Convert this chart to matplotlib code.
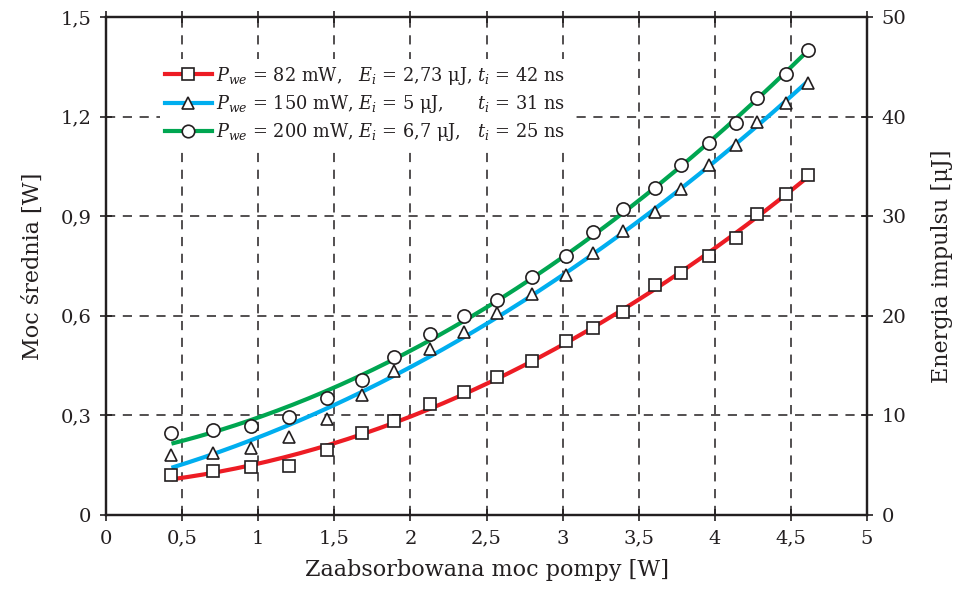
import numpy as np
import matplotlib
matplotlib.use("Agg")
import matplotlib.pyplot as plt
from matplotlib.lines import Line2D

# ---- data ----
pump_power = [0.43, 0.70, 0.95, 1.20, 1.45, 1.68, 1.89, 2.13, 2.35, 2.57, 2.80,
              3.02, 3.20, 3.40, 3.61, 3.78, 3.96, 4.14, 4.28, 4.47, 4.61]
p_82mw = [0.120, 0.133, 0.145, 0.148, 0.196, 0.247, 0.283, 0.334, 0.370, 0.416, 0.464,
          0.524, 0.563, 0.611, 0.693, 0.729, 0.780, 0.834, 0.907, 0.967, 1.024]
p_150mw = [0.181, 0.187, 0.202, 0.235, 0.289, 0.361, 0.434, 0.500, 0.551, 0.608, 0.666,
           0.723, 0.789, 0.855, 0.913, 0.982, 1.054, 1.114, 1.184, 1.241, 1.301]
p_200mw = [0.247, 0.256, 0.268, 0.295, 0.352, 0.407, 0.476, 0.545, 0.599, 0.648, 0.717,
           0.780, 0.852, 0.922, 0.985, 1.054, 1.120, 1.181, 1.256, 1.328, 1.401]

labels = [r"$P_{we}$ = 82 mW,   $E_i$ = 2,73 μJ, $t_i$ = 42 ns",
          r"$P_{we}$ = 150 mW, $E_i$ = 5 μJ,      $t_i$ = 31 ns",
          r"$P_{we}$ = 200 mW, $E_i$ = 6,7 μJ,   $t_i$ = 25 ns"]
colors = ["#ED1C24", "#00AEEF", "#00A651"]
markers = ["s", "^", "o"]

x_ticks = [0, 0.5, 1, 1.5, 2, 2.5, 3, 3.5, 4, 4.5, 5]
x_ticklabels = ["0", "0,5", "1", "1,5", "2", "2,5", "3", "3,5", "4", "4,5", "5"]
y_ticks = [0, 0.3, 0.6, 0.9, 1.2, 1.5]
y_ticklabels = ["0", "0,3", "0,6", "0,9", "1,2", "1,5"]
y2_ticks = [0, 10, 20, 30, 40, 50]

plt.rcParams["font.family"] = ["DejaVu Serif"]
plt.rcParams["mathtext.fontset"] = "dejavuserif"

fig = plt.figure(figsize=(9.55, 5.96), dpi=100)
ax = fig.add_axes([106/955, 1 - 515/596, (867-106)/955, (515-17)/596])

edge = "#231f20"
handles = []
for ys, c, m, lab in zip([p_82mw, p_150mw, p_200mw], colors, markers, labels):
    x = np.array(pump_power)
    y = np.array(ys)
    coef = np.polyfit(x, y, 2)
    xf = np.linspace(x[0], x[-1], 200)
    ax.plot(xf, np.polyval(coef, xf), color=c, lw=3.0, zorder=3, solid_capstyle="butt")
    ax.plot(x, y, ls="none", marker=m, ms=9 if m != "o" else 9.5, mfc="white",
            mec=edge, mew=1.2, zorder=4)
    handles.append(Line2D([], [], color=c, lw=3.0, marker=m, ms=9, mfc="white",
                          mec=edge, mew=1.2))

ax.set_xlim(0, 5)
ax.set_ylim(0, 1.5)
ax.set_xticks(x_ticks)
ax.set_xticklabels(x_ticklabels)
ax.set_yticks(y_ticks)
ax.set_yticklabels(y_ticklabels)
ax.grid(True, color="#231f20", ls=(0, (6, 5)), lw=1.1)
ax.tick_params(direction="inout", length=9, width=1.2, labelsize=14, color=edge,
               labelcolor=edge, top=True, pad=6)
for s in ax.spines.values():
    s.set_linewidth(1.6)
    s.set_color(edge)

ax.set_xlabel("Zaabsorbowana moc pompy [W]", fontsize=16, color=edge, labelpad=8)
ax.set_ylabel("Moc średnia [W]", fontsize=16, color=edge, labelpad=12)

ax2 = ax.twinx()
ax2.set_ylim(0, 50)
ax2.set_yticks(y2_ticks)
ax2.tick_params(direction="inout", length=9, width=1.2, labelsize=14, color=edge,
                labelcolor=edge, pad=6)
ax2.set_ylabel("Energia impulsu [μJ]", fontsize=16, color=edge, labelpad=18)
for s in ax2.spines.values():
    s.set_linewidth(1.6)
    s.set_color(edge)

leg = ax2.legend(handles, labels, loc="upper left", bbox_to_anchor=(0.071, 0.915),
                 frameon=True, fontsize=12.8, handlelength=2.6, handletextpad=0.25,
                 labelspacing=0.36, borderaxespad=0, borderpad=0.3)
leg.get_frame().set_facecolor("white")
leg.get_frame().set_edgecolor("none")
leg.get_frame().set_alpha(1)
for t in leg.get_texts():
    t.set_color(edge)
leg.set_zorder(10)

fig.savefig("out.png", dpi=100)
